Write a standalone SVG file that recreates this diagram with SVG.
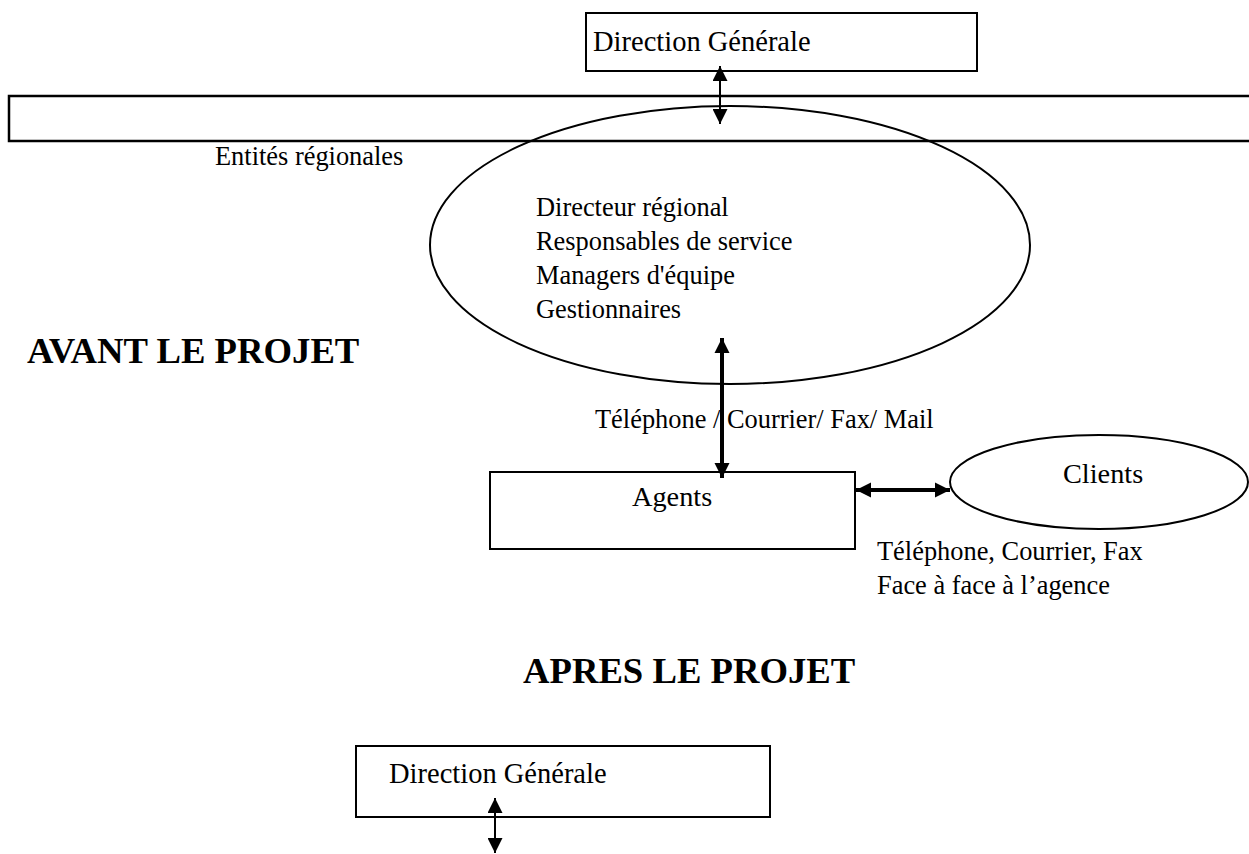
<svg xmlns="http://www.w3.org/2000/svg" width="1249" height="854" viewBox="0 0 1249 854">
<defs>
<style>
.box{fill:#fff;stroke:#000;stroke-width:2}
.bar{fill:#fff;stroke:#000;stroke-width:2.5}
.ell{fill:none;stroke:#000;stroke-width:2}
.t{font-family:"Liberation Serif","Times New Roman",serif;fill:#000}
.b{font-size:26.4px}
.a{font-size:28.3px}
.g{font-size:28.5px}
.h{font-size:36.7px;font-weight:bold}
.thin{stroke:#000;stroke-width:2;fill:none}
.thick{stroke:#000;stroke-width:4;fill:none}
</style>
<marker id="ah" viewBox="0 0 10 10" refX="10" refY="5" markerWidth="7.5" markerHeight="7.5" markerUnits="strokeWidth" orient="auto-start-reverse"><path d="M0,0 L10,5 L0,10 z" fill="#000"/></marker>
<marker id="ahk" viewBox="0 0 10 10" refX="10" refY="5" markerWidth="3.8" markerHeight="3.8" markerUnits="strokeWidth" orient="auto-start-reverse"><path d="M0,0 L10,5 L0,10 z" fill="#000"/></marker>
</defs>
<rect width="1249" height="854" fill="#fff"/>
<g id="regional-bar"><rect class="bar" x="9" y="96" width="1260" height="45"/></g>
<g id="entites-label"><text class="t b" x="215" y="165">Entités régionales</text></g>
<g id="direction-top"><rect class="box" x="586" y="13" width="391" height="58"/><text class="t g" x="593" y="51">Direction Générale</text></g>
<g id="regional-ellipse"><ellipse class="ell" cx="730" cy="245" rx="300" ry="139"/>
<text class="t b" x="536" y="216">Directeur régional</text>
<text class="t b" x="536" y="250">Responsables de service</text>
<text class="t b" x="536" y="284">Managers d'équipe</text>
<text class="t b" x="536" y="318">Gestionnaires</text></g>
<g id="avant"><text class="t h" x="27" y="363">AVANT LE PROJET</text></g>
<g id="agents"><rect class="box" x="490" y="472" width="365" height="77"/><text class="t a" x="632" y="506">Agents</text></g>
<g id="clients"><ellipse class="ell" cx="1099" cy="482" rx="149" ry="47"/><text class="t a" x="1063" y="483">Clients</text></g>
<g id="label-tel1"><text class="t b" x="595" y="428">Téléphone / Courrier/ Fax/ Mail</text></g>
<g id="label-tel2"><text class="t b" x="877" y="560">Téléphone, Courrier, Fax</text><text class="t b" x="877" y="594">Face à face à l’agence</text></g>
<g id="apres"><text class="t h" x="523" y="683">APRES LE PROJET</text></g>
<g id="direction-bottom"><rect class="box" x="356" y="746" width="414" height="71"/><text class="t g" x="389" y="783">Direction Générale</text></g>
<g id="connectors">
<line class="thin" x1="720" y1="66" x2="720" y2="124" marker-start="url(#ah)" marker-end="url(#ah)"/>
<line class="thick" x1="722" y1="338" x2="722" y2="478" marker-start="url(#ahk)" marker-end="url(#ahk)"/>
<line class="thick" x1="856" y1="490" x2="950" y2="490" marker-start="url(#ahk)" marker-end="url(#ahk)"/>
<line class="thin" x1="495" y1="798" x2="495" y2="853" marker-start="url(#ah)" marker-end="url(#ah)"/>
</g>
</svg>
